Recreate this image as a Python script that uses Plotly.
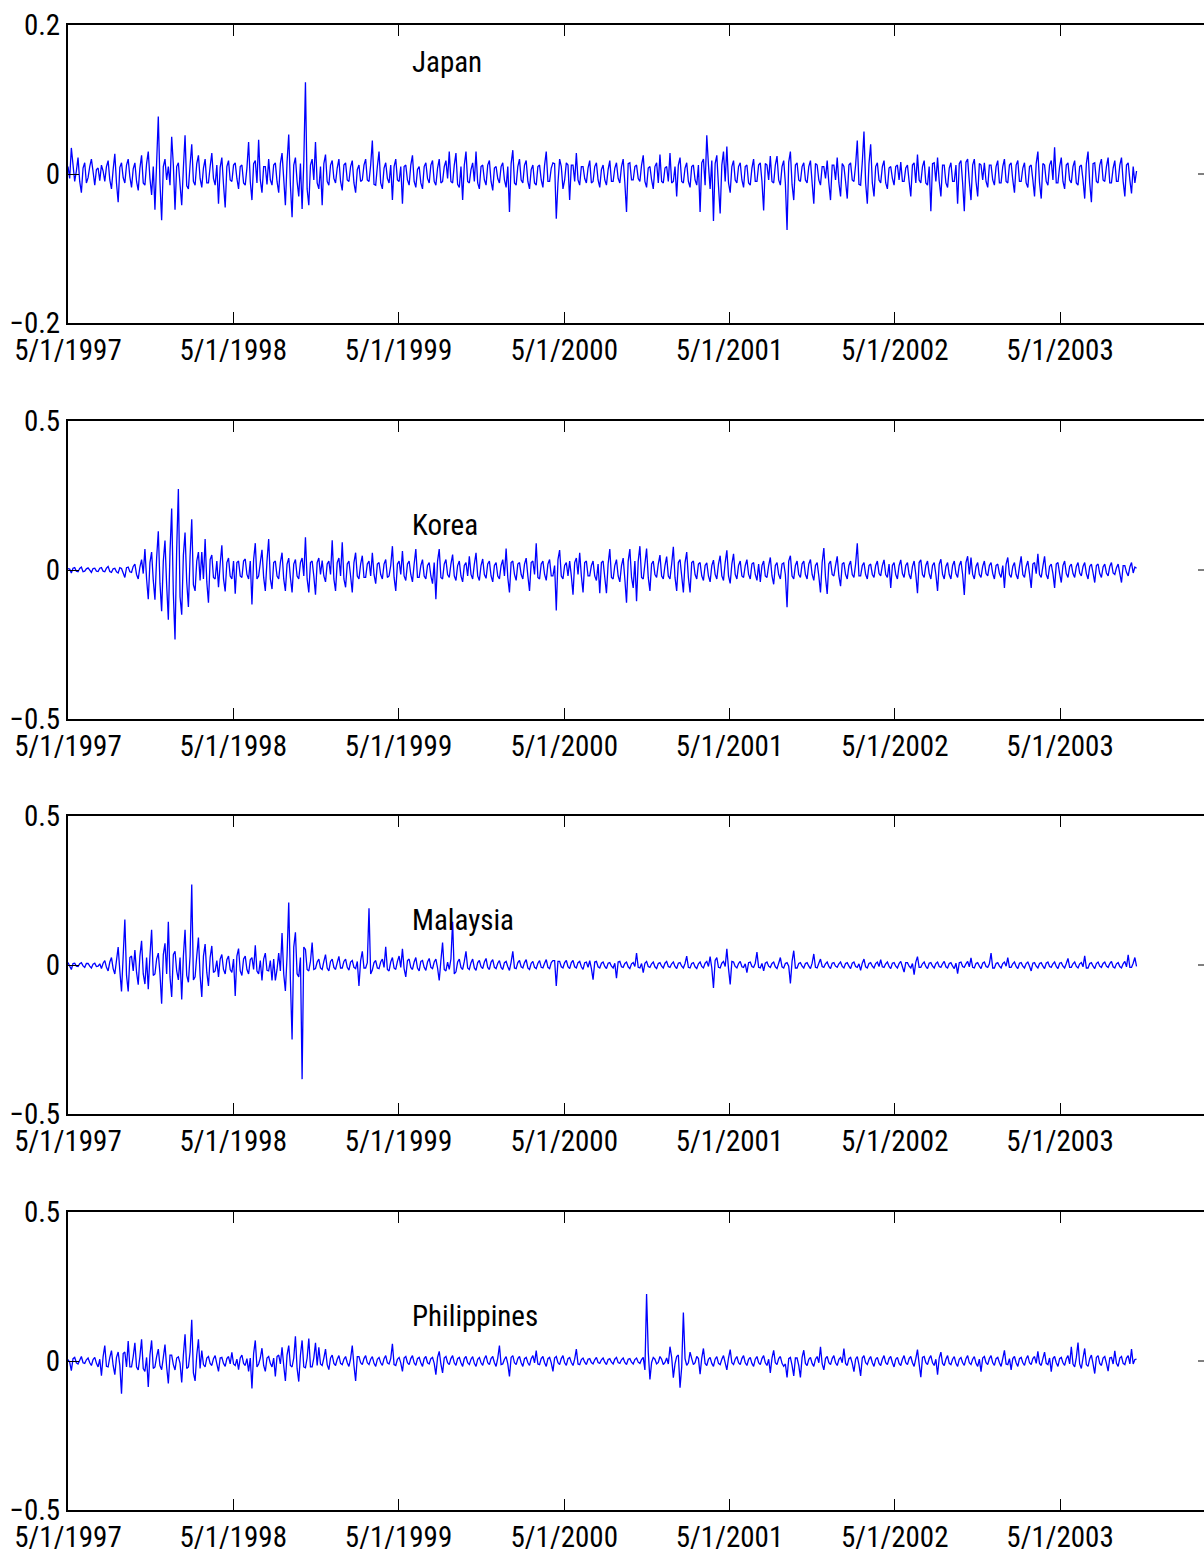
import pandas as pd
import plotly.graph_objects as go
from plotly.subplots import make_subplots

# ---------------- data (daily returns) ----------------
START_DATE = "1997-05-01"
END_DATE = "2003-10-17"

# odd samples (carry the visible spikes)
japan = [
    0.010, 0.035, -0.010, 0.022, -0.025, 0.015, -0.005, 0.020, -0.015, 0.008,
    0.012, -0.010, 0.018, -0.020, 0.027, -0.038, 0.015, -0.012, 0.020, -0.018,
    0.015, -0.022, 0.025, -0.015, 0.030, -0.028, -0.048, 0.077, -0.062, 0.020,
    0.010, 0.050, -0.048, 0.015, -0.042, 0.052, -0.020, 0.040, -0.015, 0.025,
    -0.018, 0.020, -0.012, 0.028, -0.015, -0.040, 0.022, -0.045, 0.018, -0.010,
    0.015, -0.020, 0.012, -0.015, 0.043, -0.035, 0.018, 0.046, -0.025, 0.010,
    0.020, -0.015, 0.015, -0.025, 0.028, -0.042, 0.053, -0.058, 0.022, -0.030,
    -0.047, 0.123, -0.042, 0.020, 0.043, -0.020, -0.042, 0.026, -0.015, 0.018,
    -0.012, 0.020, -0.022, 0.015, -0.010, 0.018, -0.025, 0.012, -0.008, 0.020,
    -0.010, 0.045, -0.015, 0.030, -0.020, 0.015, -0.012, -0.035, 0.020, -0.010,
    -0.040, 0.012, -0.015, 0.025, -0.018, 0.010, -0.020, 0.015, -0.012, 0.018,
    -0.015, 0.020, -0.010, 0.018, 0.030, -0.012, 0.028, -0.018, -0.035, 0.030,
    -0.012, 0.015, 0.030, -0.020, 0.012, -0.015, 0.018, -0.022, 0.010, -0.012,
    0.015, -0.018, -0.051, 0.032, -0.015, 0.020, -0.012, 0.018, -0.020, 0.012,
    -0.015, 0.012, -0.018, 0.030, -0.010, 0.015, -0.060, 0.020, -0.020, 0.015,
    -0.035, 0.012, 0.028, -0.015, 0.010, -0.012, 0.018, -0.010, 0.015, -0.018,
    0.012, -0.015, 0.018, -0.010, 0.015, -0.012, 0.020, -0.051, 0.015, -0.008,
    0.012, -0.010, 0.025, -0.018, 0.010, -0.020, 0.015, 0.026, -0.012, 0.010,
    0.028, -0.010, -0.030, 0.022, -0.012, 0.015, -0.018, 0.012, -0.015, -0.051,
    0.020, 0.052, -0.020, -0.063, 0.025, -0.053, 0.030, 0.037, -0.025, 0.018,
    -0.012, 0.015, -0.018, 0.012, -0.015, 0.020, -0.010, 0.015, -0.049, 0.012,
    0.024, -0.012, 0.024, -0.015, 0.018, -0.075, 0.030, -0.035, 0.015, -0.010,
    0.015, -0.012, 0.018, -0.040, 0.012, -0.015, 0.010, 0.018, -0.035, 0.012,
    0.022, -0.030, 0.010, -0.033, 0.015, -0.010, 0.045, -0.015, 0.057, -0.040,
    0.040, -0.030, 0.015, -0.012, 0.018, -0.020, 0.010, -0.015, 0.012, 0.016,
    -0.010, 0.012, -0.030, 0.015, 0.026, -0.012, 0.018, -0.015, -0.050, 0.015,
    0.022, -0.030, 0.012, -0.018, 0.015, -0.010, -0.040, 0.018, -0.050, 0.020,
    -0.035, 0.020, -0.030, 0.012, 0.015, -0.018, 0.012, -0.015, 0.018, -0.012,
    0.020, -0.012, 0.015, -0.025, 0.018, -0.010, 0.015, -0.018, 0.012, -0.030,
    0.030, -0.033, 0.012, -0.015, 0.018, 0.036, -0.012, 0.022, -0.020, 0.015,
    -0.012, 0.018, -0.015, 0.012, -0.033, 0.030, -0.038, 0.015, -0.012, 0.020,
    -0.010, 0.022, -0.012, 0.018, -0.010, 0.022, -0.030, 0.015, -0.026, -0.012,
]
# even samples (in-between days)
japan_b = [
    -0.006, 0.012, 0.004, -0.010, 0.008, -0.012, 0.010, 0.003, 0.006, -0.009,
    0.004, 0.010, -0.008, 0.006, -0.012, 0.009, -0.005, 0.012, -0.004, 0.007,
    -0.010, 0.008, -0.012, 0.014, -0.006, 0.010, 0.015, -0.012, 0.010, -0.008,
    -0.015, 0.012, 0.010, -0.014, 0.008, -0.016, 0.012, -0.010, 0.014, -0.006,
    0.008, -0.012, 0.010, -0.006, 0.012, 0.009, -0.014, 0.010, -0.008, 0.012,
    -0.006, 0.010, -0.012, 0.008, -0.010, 0.014, -0.012, -0.008, 0.010, -0.014,
    -0.008, 0.012, -0.010, 0.014, -0.006, 0.016, -0.015, 0.012, -0.010, 0.014,
    0.015, -0.020, 0.012, -0.008, -0.012, 0.010, 0.014, -0.010, 0.012, -0.006,
    0.008, -0.010, 0.012, -0.008, 0.010, -0.012, 0.006, -0.010, 0.012, -0.008,
    0.012, -0.014, 0.010, -0.012, 0.008, -0.006, 0.012, 0.010, -0.008, 0.010,
    0.010, -0.008, 0.012, -0.010, 0.006, -0.012, 0.010, -0.006, 0.012, -0.010,
    0.008, -0.012, 0.010, -0.006, -0.010, 0.012, -0.014, 0.010, 0.012, -0.010,
    0.006, -0.010, -0.012, 0.010, -0.008, 0.012, -0.010, 0.008, -0.006, 0.010,
    -0.008, 0.010, 0.014, -0.012, 0.010, -0.008, 0.012, -0.010, 0.006, -0.012,
    0.010, -0.008, 0.012, -0.010, 0.008, 0.014, -0.012, 0.010, -0.008, 0.012,
    0.012, -0.010, -0.008, 0.010, -0.006, 0.008, -0.012, 0.010, -0.008, 0.006,
    -0.008, 0.006, -0.010, 0.008, -0.006, 0.010, -0.012, 0.014, -0.008, 0.010,
    -0.006, 0.012, -0.010, 0.008, -0.008, 0.010, -0.012, -0.010, 0.008, -0.010,
    -0.012, 0.010, 0.012, -0.010, 0.008, -0.010, 0.010, -0.008, 0.012, 0.015,
    -0.015, 0.012, 0.018, 0.014, -0.016, 0.012, -0.010, -0.012, 0.010, -0.008,
    0.010, -0.008, 0.010, -0.012, 0.008, -0.010, 0.012, -0.010, 0.014, -0.008,
    -0.010, 0.012, -0.008, 0.010, -0.012, 0.016, -0.014, 0.012, -0.008, 0.010,
    -0.008, 0.010, -0.012, 0.014, -0.008, 0.010, -0.006, -0.012, 0.012, -0.008,
    -0.012, 0.014, -0.010, 0.012, -0.008, 0.012, -0.014, 0.016, -0.012, 0.014,
    -0.012, 0.010, -0.008, 0.010, -0.012, 0.008, -0.006, 0.010, -0.008, -0.010,
    0.008, -0.010, 0.012, -0.012, -0.008, 0.010, -0.012, 0.010, 0.014, -0.010,
    -0.010, 0.012, -0.012, 0.008, -0.010, 0.012, 0.014, -0.012, 0.016, -0.010,
    0.012, -0.010, 0.014, -0.008, -0.010, 0.012, -0.008, 0.010, -0.012, 0.010,
    -0.010, 0.012, -0.008, 0.012, -0.010, 0.008, -0.012, 0.010, -0.008, 0.014,
    -0.012, 0.014, -0.010, 0.012, -0.008, -0.012, 0.010, -0.010, 0.012, -0.008,
    0.010, -0.012, 0.010, -0.008, 0.014, -0.012, 0.014, -0.010, 0.012, -0.008,
    0.010, -0.012, 0.008, -0.010, 0.012, -0.010, 0.012, -0.008, 0.010, 0.004,
]

korea = [
    0.005, -0.010, 0.008, -0.006, 0.010, -0.004, 0.007, -0.008, 0.006, -0.005,
    0.008, -0.006, 0.012, -0.008, 0.006, -0.010, 0.005, -0.025, 0.010, -0.008,
    0.020, -0.030, 0.035, 0.070, -0.098, 0.060, -0.100, 0.130, -0.138, 0.099,
    -0.167, 0.206, -0.233, 0.272, -0.150, 0.126, -0.124, 0.170, -0.070, 0.060,
    0.060, 0.104, -0.110, 0.050, -0.030, -0.058, 0.083, -0.072, 0.040, -0.030,
    -0.080, 0.030, -0.025, 0.037, -0.030, -0.116, 0.090, -0.020, 0.068, -0.070,
    0.104, -0.064, 0.030, -0.030, 0.058, -0.070, 0.040, -0.075, 0.035, -0.030,
    0.040, 0.110, -0.075, 0.030, -0.083, 0.040, 0.032, -0.040, 0.030, 0.100,
    -0.070, 0.040, 0.093, -0.058, 0.030, -0.075, 0.058, -0.030, 0.048, -0.025,
    0.030, 0.058, -0.046, 0.025, -0.030, 0.035, -0.020, 0.080, -0.070, 0.030,
    0.064, -0.035, 0.030, -0.040, 0.070, -0.025, 0.035, -0.030, 0.025, -0.046,
    -0.098, 0.070, -0.030, 0.035, -0.025, 0.052, -0.035, 0.030, -0.040, 0.025,
    0.046, -0.030, 0.058, -0.035, 0.037, -0.028, 0.030, -0.040, 0.025, -0.030,
    0.035, 0.072, -0.075, 0.030, -0.035, 0.025, -0.030, 0.040, -0.070, 0.030,
    0.090, -0.030, 0.030, -0.035, 0.035, -0.020, -0.136, 0.067, -0.030, 0.025,
    0.030, -0.083, 0.040, 0.058, -0.075, 0.030, -0.020, 0.030, -0.035, -0.078,
    0.030, -0.078, 0.070, -0.030, 0.035, -0.040, 0.040, -0.110, 0.070, -0.060,
    -0.105, 0.080, -0.030, 0.072, -0.070, 0.030, -0.025, 0.050, -0.030, 0.045,
    -0.030, 0.078, -0.070, 0.035, -0.075, 0.060, -0.075, 0.030, -0.030, 0.025,
    -0.035, 0.024, -0.040, 0.033, -0.030, 0.048, -0.035, 0.066, -0.045, 0.054,
    -0.030, 0.030, -0.025, 0.035, -0.030, 0.025, -0.035, -0.040, 0.030, -0.025,
    0.042, -0.048, 0.025, -0.030, 0.024, -0.125, 0.048, -0.030, 0.030, -0.025,
    0.030, -0.030, 0.035, -0.035, 0.025, -0.075, 0.074, -0.080, 0.030, -0.020,
    0.046, -0.054, 0.025, -0.030, 0.030, -0.025, 0.090, -0.020, 0.025, -0.030,
    0.020, -0.025, 0.030, -0.020, 0.034, -0.025, -0.060, 0.025, -0.030, 0.034,
    -0.025, 0.025, -0.030, 0.030, -0.078, 0.034, -0.025, 0.030, -0.030, 0.025,
    -0.070, 0.036, -0.030, 0.025, -0.030, 0.030, -0.025, 0.030, -0.084, 0.046,
    0.042, -0.030, 0.025, -0.025, 0.030, -0.020, 0.025, -0.030, 0.020, -0.025,
    -0.060, 0.042, -0.025, 0.025, -0.030, 0.046, -0.025, 0.030, -0.060, 0.025,
    0.054, -0.025, 0.046, -0.030, 0.020, -0.060, 0.025, -0.042, 0.030, -0.025,
    0.020, -0.025, 0.025, -0.020, 0.025, -0.030, 0.020, -0.042, 0.020, -0.025,
    0.020, -0.020, 0.025, -0.015, 0.020, -0.042, 0.015, -0.020, 0.025, 0.010,
]
korea_b = [
    0.003, 0.006, -0.004, 0.005, -0.006, 0.004, -0.003, 0.005, -0.004, 0.006,
    -0.004, 0.006, -0.005, 0.004, -0.006, 0.008, -0.010, 0.008, -0.006, 0.012,
    -0.015, 0.010, -0.012, -0.030, 0.025, -0.035, 0.040, -0.045, 0.030, -0.050,
    0.060, -0.080, 0.070, -0.090, 0.050, -0.040, 0.045, -0.050, 0.030, -0.035,
    -0.030, -0.040, 0.035, -0.025, 0.030, 0.020, -0.030, 0.025, -0.020, 0.030,
    0.025, -0.020, 0.030, -0.015, 0.030, 0.035, -0.030, 0.025, -0.025, 0.030,
    -0.030, 0.025, -0.020, 0.025, -0.030, 0.020, -0.025, 0.020, -0.020, 0.025,
    -0.020, -0.030, 0.025, -0.020, 0.025, -0.015, -0.020, 0.020, -0.015, -0.030,
    0.025, -0.020, -0.030, 0.020, -0.020, 0.025, -0.020, 0.020, -0.025, 0.020,
    -0.020, -0.015, 0.020, -0.015, 0.020, -0.025, 0.015, -0.025, 0.020, -0.015,
    -0.020, 0.020, -0.015, 0.020, -0.025, 0.015, -0.020, 0.015, -0.020, 0.025,
    0.030, -0.025, 0.020, -0.015, 0.020, -0.020, 0.015, -0.020, 0.015, -0.020,
    -0.015, 0.020, -0.020, 0.015, -0.015, 0.020, -0.020, 0.015, -0.020, 0.015,
    -0.020, -0.025, 0.025, -0.015, 0.020, -0.015, 0.020, -0.020, 0.025, -0.015,
    -0.025, 0.020, -0.015, 0.020, -0.020, 0.015, 0.035, -0.020, 0.015, -0.020,
    -0.020, 0.025, -0.015, -0.020, 0.025, -0.020, 0.015, -0.020, 0.020, 0.025,
    -0.025, 0.020, -0.025, 0.015, -0.020, 0.015, -0.030, 0.030, -0.025, 0.030,
    0.030, -0.025, 0.020, -0.025, 0.020, -0.015, 0.020, -0.020, 0.015, -0.020,
    0.020, -0.025, 0.025, -0.020, 0.025, -0.025, 0.025, -0.015, 0.020, -0.020,
    0.015, -0.020, 0.015, -0.015, 0.020, -0.020, 0.025, -0.020, 0.020, -0.015,
    0.015, -0.020, 0.015, -0.015, 0.020, -0.015, 0.020, 0.015, -0.020, 0.015,
    -0.020, 0.015, -0.015, 0.020, -0.015, 0.030, -0.020, 0.015, -0.015, 0.020,
    -0.015, 0.020, -0.015, 0.015, -0.020, 0.025, -0.025, 0.020, -0.015, 0.015,
    -0.020, 0.020, -0.015, 0.015, -0.015, 0.020, -0.020, 0.015, -0.015, 0.015,
    -0.015, 0.015, -0.012, 0.015, -0.015, 0.020, 0.015, -0.015, 0.015, -0.012,
    0.015, -0.015, 0.012, -0.015, 0.025, -0.015, 0.015, -0.012, 0.015, -0.015,
    0.020, -0.015, 0.012, -0.015, 0.015, -0.012, 0.015, -0.015, 0.025, -0.015,
    -0.015, 0.012, -0.015, 0.012, -0.012, 0.015, -0.012, 0.015, -0.012, 0.015,
    0.020, -0.015, 0.012, -0.015, 0.012, -0.015, 0.012, -0.012, 0.020, -0.012,
    -0.015, 0.012, -0.015, 0.012, -0.012, 0.020, -0.012, 0.015, -0.012, 0.012,
    -0.012, 0.012, -0.010, 0.012, -0.012, 0.012, -0.010, 0.015, -0.012, 0.010,
    -0.010, 0.012, -0.010, 0.008, -0.012, 0.015, -0.008, 0.010, -0.010, 0.006,
]

malaysia = [
    0.008, -0.015, 0.006, -0.005, 0.008, -0.008, 0.005, -0.010, 0.006, -0.004,
    -0.012, 0.015, -0.020, 0.025, -0.030, 0.060, -0.089, 0.153, -0.089, 0.030,
    0.050, -0.066, 0.081, -0.064, -0.081, 0.118, -0.030, 0.040, -0.130, 0.073,
    0.145, -0.107, 0.046, -0.050, -0.116, 0.118, -0.058, 0.270, -0.040, 0.092,
    -0.107, 0.070, -0.070, 0.064, -0.020, -0.040, 0.035, -0.030, 0.030, -0.025,
    -0.104, 0.055, -0.035, 0.030, -0.030, 0.025, 0.066, -0.030, -0.052, 0.040,
    -0.020, -0.052, -0.052, 0.040, 0.107, -0.087, 0.210, -0.250, 0.110, -0.040,
    -0.383, 0.052, -0.020, 0.075, -0.012, 0.020, -0.015, 0.035, -0.020, 0.020,
    -0.015, 0.029, -0.010, 0.020, -0.017, 0.015, -0.012, -0.070, 0.046, -0.010,
    0.190, -0.017, 0.015, -0.012, 0.020, 0.061, -0.020, 0.025, -0.015, 0.030,
    0.054, -0.040, 0.020, -0.015, 0.025, -0.020, 0.015, -0.018, 0.022, -0.012,
    0.020, -0.052, 0.075, -0.020, -0.015, 0.145, -0.023, 0.020, -0.015, 0.046,
    -0.015, 0.020, -0.018, 0.015, -0.012, 0.022, -0.015, 0.018, -0.012, 0.015,
    -0.015, 0.012, -0.018, 0.046, -0.012, 0.015, -0.010, 0.018, -0.015, 0.012,
    -0.012, 0.015, -0.010, 0.018, -0.012, 0.015, -0.070, 0.012, -0.010, 0.015,
    -0.012, 0.015, -0.010, 0.012, -0.015, 0.010, 0.015, -0.049, 0.012, -0.010,
    0.010, -0.012, 0.008, -0.010, -0.044, 0.012, -0.008, 0.010, -0.012, 0.008,
    0.040, -0.010, -0.026, 0.012, -0.008, 0.010, -0.012, 0.008, -0.010, 0.012,
    -0.008, 0.010, -0.012, 0.008, -0.010, 0.030, -0.010, 0.008, -0.012, 0.010,
    -0.010, 0.012, 0.028, -0.077, 0.025, -0.010, 0.012, 0.054, -0.065, 0.010,
    -0.010, 0.012, -0.008, -0.026, 0.010, -0.008, 0.043, -0.010, -0.020, 0.010,
    -0.008, 0.010, -0.012, 0.025, -0.010, 0.008, -0.062, 0.048, -0.010, 0.008,
    -0.010, 0.008, -0.012, 0.037, -0.010, 0.020, -0.008, 0.010, -0.012, 0.008,
    -0.008, 0.010, -0.010, 0.008, -0.012, 0.010, -0.008, -0.018, 0.020, -0.010,
    0.008, -0.010, 0.010, 0.018, -0.008, 0.010, -0.012, 0.008, -0.010, 0.012,
    -0.024, 0.008, -0.010, -0.032, 0.028, -0.008, 0.010, -0.012, 0.008, -0.010,
    0.010, -0.008, 0.012, -0.010, 0.008, -0.012, -0.029, 0.010, -0.008, 0.012,
    0.024, -0.010, 0.008, -0.012, 0.010, -0.008, 0.040, -0.010, 0.008, -0.010,
    0.010, 0.025, -0.008, 0.010, -0.012, 0.008, -0.010, 0.010, -0.020, 0.008,
    -0.010, 0.008, -0.012, 0.010, -0.008, 0.010, -0.012, 0.008, -0.010, 0.022,
    -0.008, 0.010, -0.010, 0.008, 0.031, -0.010, 0.008, -0.012, 0.010, -0.008,
    0.010, -0.008, 0.012, -0.010, 0.008, -0.010, 0.012, 0.034, -0.008, 0.025,
]
malaysia_b = [
    -0.003, 0.005, -0.004, 0.004, -0.003, 0.005, -0.004, 0.003, -0.005, 0.004,
    0.006, -0.008, 0.010, -0.012, 0.015, -0.020, 0.030, -0.035, 0.025, -0.020,
    -0.025, 0.030, -0.030, 0.025, 0.030, -0.035, 0.020, -0.030, 0.035, -0.030,
    -0.040, 0.035, -0.020, 0.025, 0.030, -0.035, 0.030, -0.050, 0.030, -0.035,
    0.030, -0.025, 0.025, -0.025, 0.015, 0.020, -0.015, 0.018, -0.015, 0.020,
    0.030, -0.020, 0.020, -0.015, 0.018, -0.015, -0.020, 0.015, 0.020, -0.018,
    0.015, 0.020, -0.015, -0.020, -0.030, 0.030, -0.050, 0.060, -0.030, 0.025,
    0.060, -0.015, 0.012, -0.015, 0.010, -0.010, 0.012, -0.010, 0.012, -0.008,
    0.008, -0.010, 0.012, -0.008, 0.010, -0.008, 0.012, 0.015, -0.010, 0.008,
    -0.030, 0.008, -0.010, 0.010, -0.008, -0.015, 0.010, -0.010, 0.012, -0.008,
    -0.012, 0.015, -0.008, 0.010, -0.010, 0.012, -0.008, 0.010, -0.008, 0.010,
    -0.010, 0.015, -0.015, 0.010, 0.020, -0.030, 0.010, -0.008, 0.012, -0.010,
    0.008, -0.010, 0.008, -0.006, 0.010, -0.008, 0.010, -0.008, 0.006, -0.008,
    0.008, -0.006, 0.010, -0.010, 0.008, -0.006, 0.008, -0.010, 0.006, -0.008,
    0.006, -0.008, 0.006, -0.008, 0.008, 0.015, 0.012, -0.006, 0.008, -0.006,
    0.008, -0.006, 0.008, -0.006, 0.008, -0.008, -0.012, 0.010, -0.006, 0.006,
    -0.005, 0.006, -0.004, 0.006, 0.010, -0.006, 0.005, -0.006, 0.004, -0.005,
    -0.008, 0.005, 0.006, -0.005, 0.004, -0.006, 0.005, -0.004, 0.006, -0.005,
    0.004, -0.005, 0.006, -0.004, 0.005, -0.008, 0.005, -0.006, 0.004, -0.005,
    0.006, -0.005, -0.010, 0.015, -0.008, 0.006, -0.005, -0.012, 0.012, -0.005,
    0.005, -0.006, 0.004, 0.008, -0.005, 0.006, -0.008, 0.005, 0.006, -0.004,
    0.005, -0.006, 0.006, -0.006, 0.005, -0.004, 0.012, -0.010, 0.005, -0.004,
    0.005, -0.004, 0.006, -0.008, 0.006, -0.005, 0.004, -0.005, 0.006, -0.004,
    0.004, -0.005, 0.005, -0.004, 0.006, -0.005, 0.004, 0.006, -0.006, 0.005,
    -0.004, 0.005, -0.005, -0.006, 0.004, -0.005, 0.006, -0.004, 0.005, -0.006,
    0.008, -0.004, 0.005, 0.010, -0.008, 0.004, -0.005, 0.006, -0.004, 0.005,
    -0.005, 0.004, -0.006, 0.005, -0.004, 0.006, 0.008, -0.005, 0.004, -0.006,
    -0.008, 0.005, -0.004, 0.006, -0.005, 0.004, -0.010, 0.005, -0.004, 0.005,
    -0.004, -0.008, 0.004, -0.005, 0.006, -0.004, 0.005, -0.004, 0.006, -0.004,
    0.005, -0.004, 0.006, -0.005, 0.004, -0.005, 0.006, -0.004, 0.005, -0.008,
    0.004, -0.005, 0.004, -0.006, -0.010, 0.005, -0.004, 0.005, -0.004, 0.005,
    -0.004, 0.005, -0.006, 0.004, -0.005, 0.004, -0.006, -0.008, 0.006, -0.005,
]

philippines = [
    0.005, -0.032, 0.012, -0.010, 0.015, -0.008, 0.010, -0.015, 0.012, -0.020,
    -0.049, 0.052, -0.020, 0.035, -0.046, 0.030, -0.110, 0.030, 0.067, -0.020,
    0.061, -0.030, 0.073, -0.035, -0.087, 0.069, -0.020, 0.040, -0.029, 0.055,
    -0.075, 0.020, -0.030, 0.014, -0.072, 0.090, -0.020, 0.138, -0.067, 0.073,
    0.035, -0.020, 0.015, -0.015, 0.018, -0.035, 0.012, -0.018, 0.015, 0.029,
    -0.015, -0.029, 0.020, -0.015, -0.035, -0.092, 0.069, -0.010, 0.043, -0.035,
    0.015, -0.020, -0.052, 0.020, 0.046, -0.067, 0.052, -0.020, 0.083, -0.069,
    0.069, -0.023, 0.075, -0.020, 0.061, 0.046, -0.015, 0.040, -0.029, 0.020,
    -0.015, 0.018, -0.012, 0.015, -0.018, 0.052, -0.067, 0.015, -0.012, 0.018,
    -0.012, 0.015, -0.018, 0.012, -0.015, 0.018, -0.010, 0.058, -0.015, 0.012,
    -0.035, 0.015, -0.012, 0.018, -0.015, 0.012, -0.018, 0.015, -0.010, 0.012,
    -0.046, 0.032, -0.040, 0.015, -0.012, 0.018, -0.015, 0.012, -0.018, 0.015,
    -0.012, 0.015, -0.018, 0.012, -0.015, 0.018, -0.012, 0.015, -0.018, 0.052,
    -0.010, 0.015, -0.052, 0.018, -0.012, 0.015, -0.018, 0.012, -0.015, 0.018,
    0.035, -0.012, 0.015, -0.018, 0.012, -0.035, 0.015, -0.012, 0.018, -0.015,
    0.012, -0.015, 0.040, -0.012, 0.010, -0.012, 0.008, -0.010, 0.012, -0.008,
    0.010, -0.012, 0.008, -0.010, 0.012, -0.008, 0.010, -0.012, 0.008, -0.010,
    0.010, -0.008, 0.012, 0.225, -0.062, 0.012, -0.010, 0.015, -0.012, 0.010,
    0.048, -0.056, 0.015, -0.090, 0.163, -0.015, 0.030, -0.012, 0.015, -0.044,
    0.042, -0.015, 0.012, -0.018, 0.015, -0.012, 0.018, -0.030, 0.038, -0.012,
    0.015, -0.012, 0.018, -0.015, 0.012, -0.018, 0.015, -0.012, 0.018, -0.015,
    -0.040, 0.036, -0.012, 0.015, -0.018, -0.055, 0.012, -0.050, 0.010, -0.055,
    0.036, -0.015, 0.012, -0.018, 0.015, 0.048, -0.030, 0.015, -0.012, 0.018,
    -0.015, 0.012, 0.042, -0.015, 0.012, -0.036, 0.015, -0.050, 0.018, -0.012,
    0.015, -0.018, 0.012, -0.015, 0.018, -0.012, 0.015, -0.020, 0.012, -0.015,
    0.018, -0.012, 0.015, -0.018, 0.038, -0.054, 0.015, -0.012, 0.018, -0.015,
    -0.046, 0.030, -0.015, 0.018, -0.012, 0.015, -0.018, 0.012, -0.015, 0.018,
    -0.012, 0.015, -0.018, -0.036, 0.015, -0.012, 0.018, -0.015, 0.012, -0.018,
    0.036, -0.012, -0.030, 0.015, -0.018, 0.012, -0.015, 0.018, -0.012, 0.015,
    0.032, -0.015, 0.030, -0.012, -0.036, 0.015, -0.018, 0.012, -0.015, 0.018,
    0.048, -0.020, 0.062, -0.025, 0.042, -0.018, 0.020, -0.042, 0.018, -0.015,
    0.015, -0.034, 0.012, 0.034, -0.018, 0.015, -0.012, 0.018, 0.040, 0.005,
]
philippines_b = [
    -0.004, 0.008, -0.006, 0.005, -0.006, 0.004, -0.006, 0.005, -0.008, 0.006,
    0.015, -0.018, 0.012, -0.015, 0.012, -0.015, 0.025, -0.020, -0.020, 0.015,
    -0.020, 0.015, -0.025, 0.012, 0.020, -0.025, 0.015, -0.015, 0.012, -0.020,
    0.020, -0.012, 0.010, -0.008, 0.020, -0.025, 0.030, -0.040, 0.020, -0.025,
    -0.012, 0.010, -0.008, 0.008, -0.010, 0.010, -0.008, 0.008, -0.010, -0.010,
    0.006, 0.010, -0.008, 0.008, 0.010, 0.025, -0.020, 0.010, -0.015, 0.010,
    -0.008, 0.010, 0.015, -0.010, -0.015, 0.020, -0.015, 0.010, -0.025, 0.020,
    -0.020, 0.010, -0.020, 0.010, -0.015, -0.010, 0.010, -0.012, 0.010, -0.008,
    0.006, -0.008, 0.006, -0.006, 0.008, -0.015, 0.015, -0.006, 0.008, -0.006,
    0.006, -0.008, 0.006, -0.006, 0.008, -0.006, 0.008, -0.012, 0.006, -0.006,
    0.010, -0.006, 0.008, -0.006, 0.008, -0.006, 0.008, -0.006, 0.008, -0.008,
    0.012, -0.010, 0.010, -0.006, 0.008, -0.006, 0.008, -0.006, 0.008, -0.006,
    0.006, -0.008, 0.006, -0.006, 0.008, -0.006, 0.008, -0.006, 0.010, -0.012,
    0.006, -0.010, 0.012, -0.006, 0.008, -0.006, 0.008, -0.006, 0.008, -0.006,
    -0.010, 0.008, -0.006, 0.008, -0.006, 0.010, -0.006, 0.008, -0.006, 0.008,
    -0.005, 0.006, -0.010, 0.005, -0.004, 0.006, -0.005, 0.004, -0.005, 0.004,
    -0.004, 0.005, -0.004, 0.006, -0.005, 0.004, -0.005, 0.006, -0.004, 0.005,
    -0.004, 0.005, -0.030, 0.030, -0.005, 0.006, -0.005, 0.006, -0.005, -0.010,
    0.012, -0.010, 0.020, -0.020, 0.008, -0.006, 0.008, -0.006, 0.008, 0.010,
    -0.008, 0.006, -0.008, 0.006, -0.008, 0.006, -0.006, 0.010, -0.006, 0.006,
    -0.006, 0.008, -0.006, 0.006, -0.008, 0.006, -0.006, 0.008, -0.006, 0.006,
    0.010, -0.006, 0.008, -0.008, -0.010, 0.008, -0.015, 0.010, -0.015, 0.012,
    -0.008, 0.006, -0.008, 0.006, -0.006, -0.010, 0.008, -0.006, 0.008, -0.006,
    0.006, -0.006, -0.008, 0.008, -0.008, 0.006, -0.012, 0.010, -0.006, 0.006,
    -0.006, 0.006, -0.008, 0.006, -0.006, 0.008, -0.006, 0.006, -0.008, 0.006,
    -0.006, 0.008, -0.006, 0.008, -0.010, 0.012, -0.006, 0.008, -0.006, 0.006,
    0.010, -0.008, 0.006, -0.008, 0.006, -0.008, 0.006, -0.006, 0.008, -0.006,
    0.006, -0.008, 0.006, 0.010, -0.006, 0.008, -0.006, 0.008, -0.006, 0.008,
    -0.010, 0.008, 0.008, -0.006, 0.008, -0.006, 0.008, -0.006, 0.008, -0.008,
    -0.008, 0.008, -0.008, 0.010, 0.008, -0.006, 0.008, -0.006, 0.008, -0.010,
    -0.010, 0.012, -0.010, 0.010, -0.012, 0.008, -0.010, 0.012, -0.008, 0.010,
    -0.008, 0.010, -0.010, -0.008, 0.010, -0.008, 0.010, -0.010, -0.010, 0.006,
]

countries = ["Japan", "Korea", "Malaysia", "Philippines"]
series_a = [japan, korea, malaysia, philippines]
series_b = [japan_b, korea_b, malaysia_b, philippines_b]
y_limits = [0.2, 0.5, 0.5, 0.5]
y_tick_labels = [["\u22120.2", "0", "0.2"], ["\u22120.5", "0", "0.5"],
                 ["\u22120.5", "0", "0.5"], ["\u22120.5", "0", "0.5"]]
x_tick_dates = ["1997-05-01", "1998-05-01", "1999-05-01", "2000-05-01",
                "2001-05-01", "2002-05-01", "2003-05-01"]
x_tick_labels = ["5/1/1997", "5/1/1998", "5/1/1999", "5/1/2000",
                 "5/1/2001", "5/1/2002", "5/1/2003"]
label_date = "1999-05-26"
label_value = 0.15

# ---------------- figure ----------------
W, H = 1204, 1568
FONT = ("Roboto Condensed, Open Sans Condensed, Noto Sans Condensed, "
        "Liberation Sans Narrow, Liberation Sans, Arial, sans-serif")
FS = 29
x_range = ["1997-05-01", "2004-03-14"]
panel_px = [(25, 323), (421, 719), (816, 1114), (1212, 1510)]
left_px, right_px = 68, 1204

fig = make_subplots(rows=4, cols=1)
layout = dict(width=W, height=H,
              margin=dict(l=0, r=0, t=0, b=0, pad=0, autoexpand=False),
              paper_bgcolor="white", plot_bgcolor="white", showlegend=False,
              font=dict(family=FONT, size=FS, color="black"))

shapes = []
annotations = []
for k in range(4):
    a, b = series_a[k], series_b[k]
    vals = [v for pair in zip(a, b) for v in pair]
    dates = pd.date_range(START_DATE, END_DATE, periods=len(vals))
    fig.add_trace(go.Scatter(x=dates, y=vals, mode="lines",
                             line=dict(color="#0000ff", width=1.3),
                             hoverinfo="skip"), row=k + 1, col=1)
    top, bot = panel_px[k]
    xa = "xaxis" if k == 0 else f"xaxis{k + 1}"
    ya = "yaxis" if k == 0 else f"yaxis{k + 1}"
    lim = y_limits[k]
    layout[xa] = dict(domain=[left_px / W, right_px / W],
                      range=x_range, type="date", automargin=False,
                      showline=True, linecolor="black", linewidth=2, mirror="ticks",
                      ticks="inside", ticklen=11, tickwidth=1, tickcolor="black",
                      tickvals=x_tick_dates, ticktext=x_tick_labels,
                      showgrid=False, zeroline=False,
                      tickfont=dict(family=FONT, size=FS, color="black"))
    layout[ya] = dict(domain=[1 - bot / H, 1 - top / H],
                      range=[-lim, lim], automargin=False,
                      showline=True, linecolor="black", linewidth=2, mirror=False,
                      ticks="inside", ticklen=11, tickwidth=1, tickcolor="black",
                      tickvals=[-lim, 0, lim], ticktext=y_tick_labels[k],
                      showgrid=False, zeroline=False,
                      tickfont=dict(family=FONT, size=FS, color="black"))
    xr = "x" if k == 0 else f"x{k + 1}"
    yr = "y" if k == 0 else f"y{k + 1}"
    shapes.append(dict(type="line", xref=f"{xr} domain", yref=yr,
                       x0=1 - 6 / (right_px - left_px), x1=1, y0=0, y1=0,
                       line=dict(color="black", width=1)))
    annotations.append(dict(x=label_date, y=label_value, xref=xr, yref=yr,
                            text=countries[k], showarrow=False,
                            xanchor="left", yanchor="middle",
                            font=dict(family=FONT, size=FS, color="black")))

layout["shapes"] = shapes
layout["annotations"] = annotations
fig.update_layout(**layout)
fig.write_html("out.html",
               config={"displayModeBar": False, "staticPlot": True},
               post_script="document.body.style.margin='0px';"
                           "document.body.style.overflow='hidden';")
